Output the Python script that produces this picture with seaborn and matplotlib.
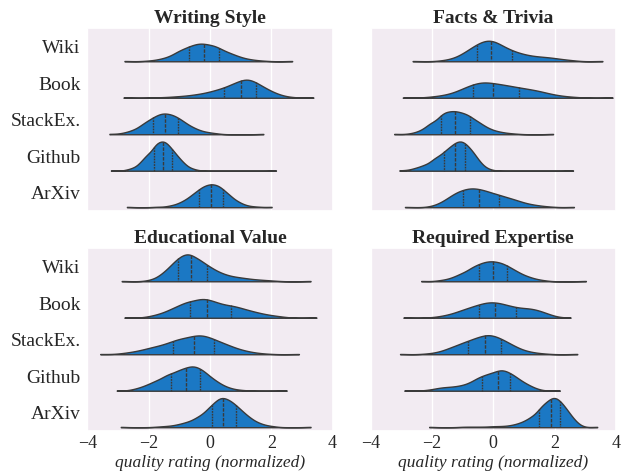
import numpy as np
import pandas as pd
import matplotlib.pyplot as plt
import seaborn as sns

sources = ["Wiki", "Book", "StackEx.", "Github", "ArXiv"]
criteria = ["Writing Style", "Facts & Trivia", "Educational Value", "Required Expertise"]

# normalized quality ratings and number of documents at each rating, one row per source
style_values = [
    [-2.79, -2.1, -1.85, -1.6, -1.35, -1.1, -0.9, -0.67, -0.43, -0.2, 0.05, 0.29, 0.55, 0.8, 1.05, 1.3, 1.55, 1.8, 2.68],
    [-2.82, -1.75, -1.5, -1.25, -1.0, -0.75, -0.5, -0.25, 0.0, 0.23, 0.46, 0.74, 1.02, 1.26, 1.5, 1.75, 2.0, 2.25, 2.5, 2.75, 3.37],
    [-3.28, -3.0, -2.75, -2.5, -2.25, -2.05, -1.85, -1.65, -1.46, -1.25, -1.03, -0.8, -0.55, -0.3, -0.05, 0.2, 1.74],
    [-3.23, -2.7, -2.5, -2.3, -2.15, -2.0, -1.82, -1.68, -1.54, -1.4, -1.25, -1.1, -0.95, -0.8, -0.6, -0.4, 2.15],
    [-2.71, -1.75, -1.5, -1.25, -1.0, -0.78, -0.56, -0.35, -0.16, 0.03, 0.22, 0.41, 0.63, 0.87, 1.1, 1.35, 1.6, 2.01],
]
style_counts = [
    [1, 1, 2, 5, 9, 16, 20, 29, 33, 34, 32, 27, 19, 13, 7, 4, 2, 1, 1],
    [1, 1, 1, 2, 3, 4, 6, 8, 11, 13, 19, 30, 34, 35, 28, 20, 12, 6, 2, 1, 1],
    [1, 1, 4, 9, 16, 21, 28, 32, 34, 35, 30, 22, 14, 7, 4, 2, 1],
    [1, 2, 5, 10, 15, 24, 32, 32, 35, 33, 27, 20, 13, 8, 4, 1, 1],
    [1, 1, 1, 4, 8, 14, 23, 29, 33, 36, 34, 30, 23, 12, 5, 2, 1, 1],
]

facts_values = [
    [-2.63, -1.75, -1.5, -1.25, -1.0, -0.77, -0.54, -0.3, -0.07, 0.15, 0.38, 0.6, 0.85, 1.1, 1.35, 1.6, 1.85, 2.1, 2.35, 2.6, 3.56],
    [-2.95, -2.25, -2.0, -1.75, -1.5, -1.25, -1.05, -0.85, -0.65, -0.43, -0.22, 0.0, 0.21, 0.42, 0.62, 0.83, 1.05, 1.3, 1.55, 1.8, 2.05, 2.3, 2.55, 2.8, 3.89],
    [-3.23, -2.75, -2.5, -2.25, -2.0, -1.7, -1.47, -1.24, -1.0, -0.76, -0.5, -0.25, 0.0, 0.25, 0.5, 0.75, 1.95],
    [-3.06, -2.75, -2.5, -2.25, -2.0, -1.8, -1.6, -1.42, -1.24, -1.07, -0.91, -0.75, -0.6, -0.45, -0.3, -0.1, 2.6],
    [-2.88, -2.0, -1.75, -1.5, -1.25, -1.0, -0.74, -0.48, -0.23, 0.0, 0.18, 0.4, 0.65, 0.9, 1.15, 1.4, 1.65, 1.9, 2.63],
]
facts_counts = [
    [1, 1, 3, 6, 13, 20, 29, 36, 35, 30, 22, 18, 15, 11, 9, 8, 7, 5, 3, 2, 1],
    [1, 1, 2, 4, 6, 9, 12, 17, 21, 26, 25, 23, 21, 19, 17, 16, 16, 15, 12, 8, 5, 3, 2, 1, 1],
    [1, 1, 4, 10, 24, 36, 36, 39, 36, 32, 23, 13, 7, 4, 2, 1, 1],
    [1, 2, 6, 11, 17, 22, 27, 32, 38, 38, 34, 26, 19, 10, 5, 2, 1],
    [1, 2, 7, 16, 26, 32, 37, 34, 29, 20, 17, 18, 15, 10, 6, 4, 2, 1, 1],
]

edu_values = [
    [-2.88, -2.0, -1.75, -1.5, -1.25, -1.03, -0.83, -0.62, -0.35, -0.09, 0.15, 0.4, 0.65, 0.9, 1.15, 1.4, 1.65, 1.9, 2.15, 3.28],
    [-2.79, -2.0, -1.75, -1.5, -1.25, -1.05, -0.85, -0.65, -0.35, -0.09, 0.15, 0.41, 0.67, 0.9, 1.15, 1.4, 1.65, 1.9, 2.15, 2.4, 3.47],
    [-3.58, -3.0, -2.75, -2.5, -2.25, -2.0, -1.75, -1.48, -1.22, -1.0, -0.76, -0.51, -0.3, -0.1, 0.13, 0.38, 0.63, 0.88, 1.13, 1.38, 1.63, 1.9, 2.9],
    [-3.04, -2.5, -2.25, -2.0, -1.75, -1.5, -1.28, -1.03, -0.79, -0.56, -0.33, -0.1, 0.15, 0.4, 0.65, 0.9, 1.15, 2.5],
    [-2.91, -1.75, -1.5, -1.25, -1.0, -0.75, -0.5, -0.3, -0.1, 0.05, 0.23, 0.41, 0.63, 0.85, 1.07, 1.3, 1.55, 1.8, 2.05, 3.28],
]
edu_counts = [
    [1, 2, 6, 18, 30, 38, 41, 51, 45, 30, 21, 15, 10, 8, 6, 4, 3, 2, 1, 1],
    [1, 3, 6, 11, 17, 18, 23, 34, 45, 37, 32, 28, 24, 21, 17, 13, 9, 6, 4, 2, 1],
    [1, 1, 3, 5, 8, 12, 16, 21, 24, 27, 32, 34, 30, 30, 28, 23, 17, 11, 7, 4, 2, 1, 1],
    [1, 3, 7, 13, 20, 25, 31, 39, 41, 45, 40, 31, 21, 11, 5, 2, 1, 1],
    [1, 1, 2, 3, 6, 10, 14, 18, 22, 27, 37, 47, 46, 36, 26, 17, 9, 4, 2, 1],
]

expert_values = [
    [-2.35, -1.75, -1.5, -1.25, -1.0, -0.72, -0.47, -0.24, -0.02, 0.21, 0.44, 0.68, 0.92, 1.16, 1.4, 1.65, 3.02],
    [-2.93, -2.0, -1.75, -1.5, -1.25, -1.0, -0.74, -0.48, -0.2, 0.07, 0.3, 0.52, 0.74, 1.0, 1.25, 1.5, 1.75, 2.0, 2.52],
    [-3.04, -2.25, -2.0, -1.75, -1.5, -1.28, -1.05, -0.81, -0.54, -0.27, -0.02, 0.24, 0.5, 0.75, 1.0, 1.25, 1.5, 1.75, 2.74],
    [-2.9, -2.25, -2.0, -1.75, -1.5, -1.25, -1.0, -0.75, -0.55, -0.37, -0.12, 0.14, 0.34, 0.54, 0.75, 1.0, 1.25, 1.5, 2.17],
    [-2.09, -1.0, -0.75, -0.5, -0.25, 0.0, 0.25, 0.5, 0.75, 1.0, 1.25, 1.5, 1.68, 1.87, 2.02, 2.17, 2.35, 2.55, 2.75, 3.39],
]
expert_counts = [
    [1, 2, 4, 9, 17, 27, 31, 33, 34, 33, 28, 21, 13, 8, 4, 2, 1],
    [1, 1, 3, 6, 10, 17, 22, 29, 36, 32, 25, 21, 20, 20, 19, 15, 9, 3, 1],
    [1, 1, 2, 5, 9, 13, 18, 25, 33, 36, 35, 30, 21, 13, 7, 4, 2, 1, 1],
    [1, 1, 3, 7, 8, 9, 12, 16, 18, 28, 39, 40, 36, 31, 27, 18, 9, 2, 1],
    [1, 1, 1, 1, 1, 2, 2, 3, 6, 11, 20, 28, 33, 38, 34, 33, 29, 17, 5, 1],
]

panels = [
    (style_values, style_counts),
    (facts_values, facts_counts),
    (edu_values, edu_counts),
    (expert_values, expert_counts),
]


def to_frame(values, counts):
    # expand (rating, count) pairs into one row per document
    rows = []
    for src, v, c in zip(sources, values, counts):
        rows.append(pd.DataFrame({"source": src, "rating": np.repeat(v, c)}))
    return pd.concat(rows, ignore_index=True)


sns.set_theme(style="darkgrid", rc={"axes.facecolor": "#f2ebf2", "grid.color": "white",
                                    "grid.linewidth": 1.0})
plt.rcParams["font.family"] = "serif"
plt.rcParams["font.serif"] = ["Liberation Serif", "DejaVu Serif"]

fig, axes = plt.subplots(2, 2, figsize=(6.24, 4.74), dpi=100, sharex=True, sharey=True)
fig.subplots_adjust(left=0.140, right=0.987, top=0.940, bottom=0.091, wspace=0.155, hspace=0.206)

for ax, title, (vals, cnts) in zip(axes.flat, criteria, panels):
    df = to_frame(vals, cnts)
    # split=True without hue draws the upper half only
    sns.violinplot(data=df, x="rating", y="source", order=sources, orient="h",
                   split=True, inner="quart", cut=0, bw_adjust=0.8,
                   color="#1b78c4", saturation=1, linewidth=1, linecolor="#3a3a3a",
                   ax=ax)
    ax.set_title(title, fontweight="bold", fontsize=14, pad=4)
    ax.set_xlim(-4, 4)
    ax.set_xticks([-4, -2, 0, 2, 4])
    ax.tick_params(axis="y", labelsize=14, length=0, pad=5)
    ax.tick_params(axis="x", labelsize=13, length=0, pad=3)
    ax.set_xlabel("")
    ax.set_ylabel("")

for ax in axes[1]:
    ax.set_xlabel("quality rating (normalized)", fontstyle="italic", fontsize=12.5, labelpad=2)

fig.savefig("out.png", dpi=100)
